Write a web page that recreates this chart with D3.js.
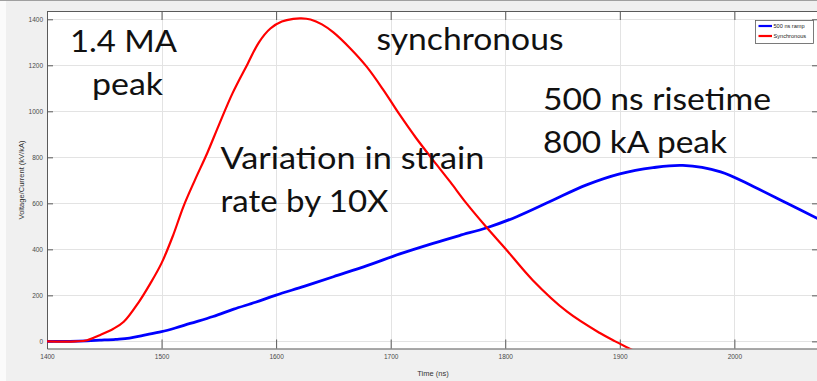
<!DOCTYPE html>
<html>
<head>
<meta charset="utf-8">
<script src="https://cdn.jsdelivr.net/npm/d3@7"></script>
<style>
  body { margin: 0; background: #fff; }
  svg { display: block; }
</style>
</head>
<body>
<div id="chart"></div>
<script>
// values
const rampTime = [1400, 1420, 1435, 1446, 1460, 1472, 1484, 1500, 1512, 1525, 1545, 1563, 1582, 1600, 1625, 1650, 1680, 1708, 1737, 1760, 1784, 1810, 1840, 1871, 1900, 1929, 1955, 1988, 2017, 2046, 2075];
const rampValue = [0, 0, 2, 5, 9, 14, 26, 42, 58, 78, 108, 140, 170, 201, 240, 281, 330, 380, 426, 460, 494, 542, 610, 680, 728, 755, 765, 737, 672, 600, 528];

const syncTime = [1400, 1425, 1435, 1446, 1458, 1467, 1480, 1490, 1500, 1510, 1519, 1529, 1540, 1550, 1562, 1575, 1585, 1595, 1605, 1615, 1622, 1630, 1640, 1650, 1665, 1679, 1694, 1708, 1722, 1737, 1752, 1766, 1784, 1800, 1824, 1854, 1883, 1896, 1912];
const syncValue = [0, 0, 5, 27, 55, 85, 170, 250, 340, 460, 585, 700, 820, 940, 1079, 1205, 1300, 1360, 1390, 1402, 1404, 1399, 1378, 1343, 1272, 1194, 1090, 984, 885, 788, 693, 601, 494, 404, 266, 129, 35, 0, -40];

const seriesNames = ["500 ns ramp", "Synchronous"];
const seriesColors = ["#0000ff", "#ff0000"];
const xTicks = [1400, 1500, 1600, 1700, 1800, 1900, 2000];
const yTicks = [0, 200, 400, 600, 800, 1000, 1200, 1400];

const notes = [
  { text: "1.4 MA", x: 70, y: 52, len: 107 },
  { text: "peak", x: 92, y: 95, len: 71 },
  { text: "synchronous", x: 376.5, y: 49.5, len: 187 },
  { text: "500 ns risetime", x: 543, y: 110, len: 228 },
  { text: "800 kA peak", x: 543, y: 152.5, len: 184 },
  { text: "Variation in strain", x: 220.5, y: 168.5, len: 264 },
  { text: "rate by 10X", x: 220.5, y: 211.5, len: 168 }
];

const width = 817, height = 381;
const plot = { left: 47, top: 11, right: 818, bottom: 348.5 };

const svg = d3.select("#chart").append("svg")
  .attr("width", width)
  .attr("height", height);

// figure background
svg.append("rect").attr("width", width).attr("height", height).attr("fill", "#f0f0f0");
svg.append("rect").attr("width", 6).attr("height", height).attr("fill", "#fbfbfb");
svg.append("line").attr("x1", 0).attr("x2", width).attr("y1", 0.5).attr("y2", 0.5)
  .attr("stroke", "#a0a0a0");

const x = d3.scaleLinear().domain([1400, 2073]).range([plot.left, plot.right]);
const y = d3.scaleLinear().domain([-31, 1436]).range([plot.bottom, plot.top]);

svg.append("rect")
  .attr("x", plot.left).attr("y", plot.top)
  .attr("width", plot.right - plot.left).attr("height", plot.bottom - plot.top)
  .attr("fill", "#fff");

svg.append("clipPath").attr("id", "clip")
  .append("rect")
  .attr("x", plot.left).attr("y", plot.top)
  .attr("width", plot.right - plot.left).attr("height", plot.bottom - plot.top);

// grid
const grid = svg.append("g").attr("stroke", "#e3e3e3").attr("stroke-width", 1);
grid.selectAll(".gx").data(xTicks).join("line")
  .attr("x1", d => Math.round(x(d)) + 0.5).attr("x2", d => Math.round(x(d)) + 0.5)
  .attr("y1", plot.top).attr("y2", plot.bottom);
grid.selectAll(".gy").data(yTicks).join("line")
  .attr("y1", d => Math.round(y(d)) + 0.5).attr("y2", d => Math.round(y(d)) + 0.5)
  .attr("x1", plot.left).attr("x2", plot.right);

// axes (MATLAB style, ticks inside, box on)
const axisColor = "#5a5a5a";
const fmt = d3.format("d");
const xAxis = svg.append("g")
  .attr("transform", `translate(0,${plot.bottom})`)
  .call(d3.axisBottom(x).tickValues(xTicks).tickFormat(fmt).tickSizeInner(-9).tickSizeOuter(0).tickPadding(5));
const xAxisTop = svg.append("g")
  .attr("transform", `translate(0,${plot.top})`)
  .call(d3.axisTop(x).tickValues(xTicks).tickSizeInner(-9).tickSizeOuter(0).tickFormat(""));
const yAxis = svg.append("g")
  .attr("transform", `translate(${plot.left},0)`)
  .call(d3.axisLeft(y).tickValues(yTicks).tickFormat(fmt).tickSizeInner(-6).tickSizeOuter(0).tickPadding(4));
const yAxisRight = svg.append("g")
  .attr("transform", `translate(${plot.right},0)`)
  .call(d3.axisRight(y).tickValues(yTicks).tickSizeInner(-6).tickSizeOuter(0).tickFormat(""));

[xAxis, xAxisTop, yAxis, yAxisRight].forEach(a => {
  a.selectAll("path, line").attr("stroke", axisColor);
  a.selectAll("text")
    .attr("fill", "#4a4a4a")
    .attr("font-family", "Liberation Sans, Arial, sans-serif")
    .attr("font-size", "6.5px");
});
xAxis.selectAll("text").attr("dy", "0.9em");

// axis labels
svg.append("text")
  .attr("x", 433).attr("y", 376)
  .attr("text-anchor", "middle")
  .attr("fill", "#333")
  .attr("font-family", "Liberation Sans, Arial, sans-serif")
  .attr("font-size", "7.5px")
  .text("Time (ns)");
svg.append("text")
  .attr("transform", "translate(24,180) rotate(-90)")
  .attr("text-anchor", "middle")
  .attr("fill", "#333")
  .attr("font-family", "Liberation Sans, Arial, sans-serif")
  .attr("font-size", "7.5px")
  .text("Voltage/Current (kV/kA)");

// curves
const series = [
  { name: seriesNames[0], color: seriesColors[0], width: 2.8, pts: rampTime.map((t, i) => [t, rampValue[i]]) },
  { name: seriesNames[1], color: seriesColors[1], width: 2.2, pts: syncTime.map((t, i) => [t, syncValue[i]]) }
];
const line = d3.line().x(d => x(d[0])).y(d => y(d[1])).curve(d3.curveCatmullRom.alpha(0.5));
svg.append("g").attr("clip-path", "url(#clip)")
  .selectAll("path").data(series).join("path")
  .attr("d", d => line(d.pts))
  .attr("fill", "none")
  .attr("stroke", d => d.color)
  .attr("stroke-width", d => d.width)
  .attr("stroke-linejoin", "round");

// legend
const legend = svg.append("g").attr("transform", "translate(755.5,20.5)");
legend.append("rect").attr("width", 58).attr("height", 23)
  .attr("fill", "#fff").attr("stroke", "#5a5a5a").attr("stroke-width", 0.8);
legend.selectAll("g").data(series).join("g")
  .attr("transform", (d, i) => `translate(0,${5.5 + i * 10})`)
  .each(function (d) {
    const g = d3.select(this);
    g.append("line").attr("x1", 3).attr("x2", 16.5)
      .attr("stroke", d.color).attr("stroke-width", 2.2);
    g.append("text").attr("x", 18).attr("y", 2)
      .attr("fill", "#222")
      .attr("font-family", "Liberation Sans, Arial, sans-serif")
      .attr("font-size", "5.6px")
      .text(d.name);
  });

// big annotations
svg.append("g").selectAll("text").data(notes).join("text")
  .attr("x", d => d.x).attr("y", d => d.y)
  .attr("textLength", d => d.len)
  .attr("lengthAdjust", "spacingAndGlyphs")
  .attr("fill", "#111")
  .attr("font-family", "Lato, 'Open Sans', sans-serif")
  .attr("font-size", "30.5px")
  .text(d => d.text);
</script>
</body>
</html>
